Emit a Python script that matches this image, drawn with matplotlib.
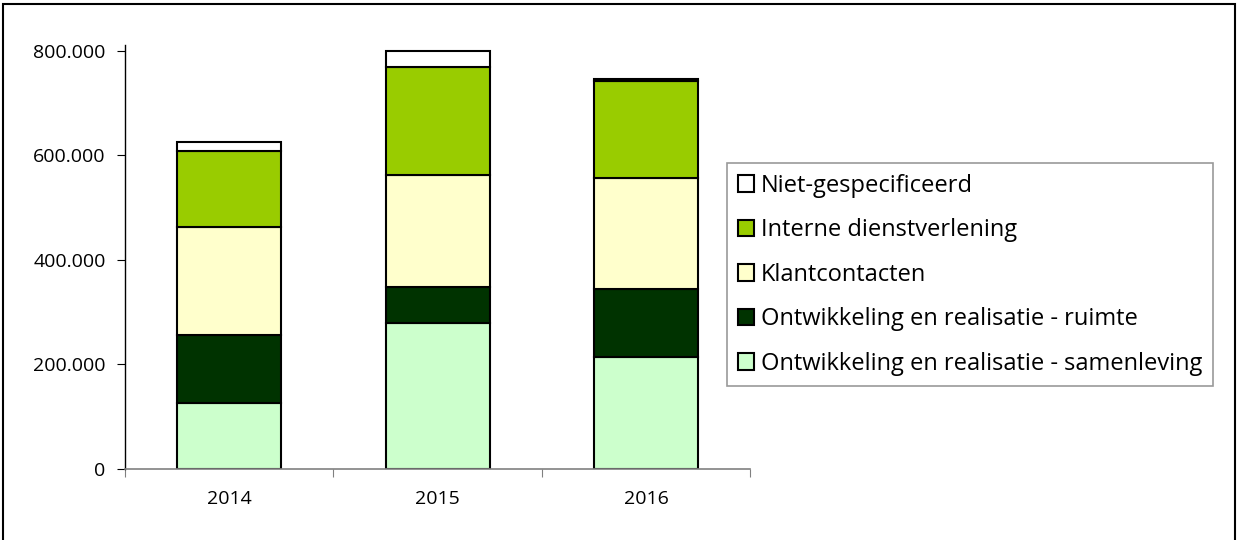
import numpy as np
import matplotlib.pyplot as plt
from matplotlib.patches import Rectangle
from matplotlib.ticker import FuncFormatter

years = ['2014', '2015', '2016']
samenleving = [126000, 279000, 214000]
ruimte = [131000, 69000, 131000]
klantcontacten = [206000, 214000, 211000]
intern = [145000, 207000, 187000]
niet_gespec = [17000, 32000, 3000]

series = [
    ('Ontwikkeling en realisatie - samenleving', samenleving, '#CCFFCC'),
    ('Ontwikkeling en realisatie - ruimte', ruimte, '#003300'),
    ('Klantcontacten', klantcontacten, '#FFFFCC'),
    ('Interne dienstverlening', intern, '#99CC00'),
    ('Niet-gespecificeerd', niet_gespec, '#FFFFFF'),
]

plt.rcParams['font.family'] = ['Open Sans', 'DejaVu Sans']

fig = plt.figure(figsize=(12.38, 5.40), dpi=100)
ax = fig.add_axes([0.101, 0.132, 0.505, 0.785])

x = np.arange(len(years))
bottom = np.zeros(len(years))
handles = []
for name, vals, color in series:
    b = ax.bar(x, vals, 0.5, bottom=bottom, color=color, edgecolor='black',
               linewidth=1.5, label=name)
    handles.append(b)
    bottom += np.array(vals)

ax.set_xlim(-0.5, 2.5)
ax.set_ylim(0, 812000)
ax.set_yticks([0, 200000, 400000, 600000, 800000])
ax.yaxis.set_major_formatter(FuncFormatter(lambda v, p: f'{int(v):,}'.replace(',', '.')))
ax.set_xticks([-0.5, 0.5, 1.5, 2.5], minor=False)
ax.set_xticklabels([])
ax.set_xticks(x, minor=True)
ax.set_xticklabels(years, minor=True)
ax.tick_params(axis='x', which='major', length=6, color='#808080', direction='out')
ax.tick_params(axis='x', which='minor', length=0, pad=15, labelsize=14)
ax.tick_params(axis='y', length=6, direction='out', labelsize=14, pad=8)
ax.spines['top'].set_visible(False)
ax.spines['right'].set_visible(False)
ax.spines['bottom'].set_color('#808080')
ax.spines['bottom'].set_linewidth(1.2)
ax.spines['left'].set_linewidth(1.0)

leg = fig.legend(handles[::-1], [s[0] for s in series][::-1],
                 loc='upper left', bbox_to_anchor=(727 / 1238, 1 - 163 / 540),
                 fontsize=17, frameon=True, fancybox=False, edgecolor='#808080',
                 handlelength=0.7, handleheight=0.7, handletextpad=0.3,
                 labelspacing=0.87, borderpad=0.45, borderaxespad=0)
leg.get_frame().set_linewidth(1.2)

fig.patches.append(Rectangle((3 / 1238, -0.1), 1232 / 1238, 1.1 - 4 / 540,
                             transform=fig.transFigure, fill=False,
                             edgecolor='black', linewidth=1.5))

fig.savefig('out.png', dpi=100)
